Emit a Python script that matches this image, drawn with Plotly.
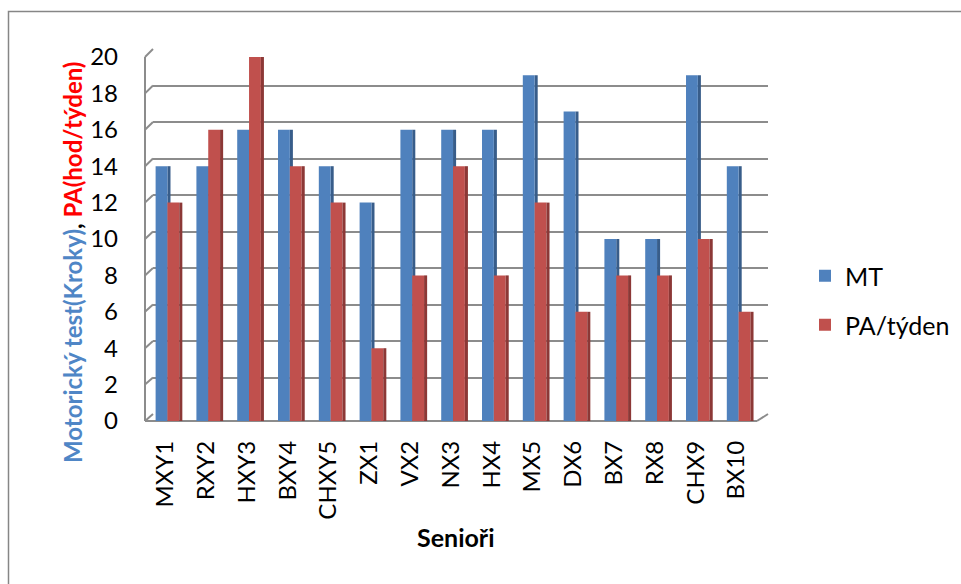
import plotly.graph_objects as go

# Seniors and their scores
seniori = ["MXY1", "RXY2", "HXY3", "BXY4", "CHXY5", "ZX1", "VX2", "NX3",
           "HX4", "MX5", "DX6", "BX7", "RX8", "CHX9", "BX10"]
mt = [14, 14, 16, 16, 14, 12, 16, 16, 16, 19, 17, 10, 10, 19, 14]
pa_tyden = [12, 16, 20, 14, 12, 4, 8, 14, 8, 12, 6, 8, 8, 10, 6]
y_ticks = list(range(0, 21, 2))

W, H = 961, 584
FONT = "Lato"


def px(x):
    return x / W


def py(y):
    return 1 - y / H


# front plane (bars, labels) and back wall (grid) in pixels
FX0, FX1, FY0, FY1 = 145, 757, 421, 57
BX0, BX1, BY0, BY1 = 153, 768, 414, 49

BLUE, BLUE_SIDE = "#4F81BD", "#385D8A"
RED, RED_SIDE = "#C0504D", "#8C3836"
GRID = "#8C8C8C"

bw, side = 0.29, 0.075
off_blue, off_red = -0.24, 0.05

fig = go.Figure()
# invisible anchor so the back-wall subplot (grid) is rendered
fig.add_trace(go.Scatter(x=[seniori[0]], y=[0], xaxis="x", yaxis="y", mode="markers",
                         marker=dict(opacity=0), showlegend=False, hoverinfo="skip"))
fig.add_trace(go.Bar(x=seniori, y=mt, xaxis="x2", yaxis="y2", width=side,
                     offset=off_blue + bw, marker=dict(color=BLUE_SIDE, line_width=0),
                     showlegend=False, hoverinfo="skip"))
fig.add_trace(go.Bar(x=seniori, y=mt, name="MT", xaxis="x2", yaxis="y2", width=bw,
                     offset=off_blue, marker=dict(color=BLUE, line_width=0),
                     legend="legend"))
fig.add_trace(go.Bar(x=seniori, y=pa_tyden, name="PA/týden", xaxis="x2", yaxis="y2",
                     width=bw, offset=off_red, marker=dict(color=RED, line_width=0),
                     legend="legend2"))
fig.add_trace(go.Bar(x=seniori, y=pa_tyden, xaxis="x2", yaxis="y2", width=side,
                     offset=off_red + bw, marker=dict(color=RED_SIDE, line_width=0),
                     showlegend=False, hoverinfo="skip"))

shapes = []
line = dict(color=GRID, width=2)
# left side wall: front edge and slanted grid segments
shapes.append(dict(type="line", xref="paper", yref="paper", layer="below",
                   x0=px(FX0), x1=px(FX0), y0=py(FY0), y1=py(FY1), line=line))
fs = (FY0 - FY1) / 20
bs = (BY0 - BY1) / 20
for v in y_ticks:
    shapes.append(dict(type="line", xref="paper", yref="paper", layer="below",
                       x0=px(FX0), y0=py(FY0 - v * fs), x1=px(BX0), y1=py(BY0 - v * bs),
                       line=line))
# floor front edge and right end
shapes.append(dict(type="line", xref="paper", yref="paper", layer="below",
                   x0=px(FX0), x1=px(FX1), y0=py(FY0), y1=py(FY0), line=line))
shapes.append(dict(type="line", xref="paper", yref="paper", layer="below",
                   x0=px(FX1), x1=px(BX1), y0=py(FY0), y1=py(BY0), line=line))
# chart area border
shapes.append(dict(type="rect", xref="paper", yref="paper",
                   x0=px(8.5), x1=px(1000), y0=py(11.5), y1=py(640),
                   line=dict(color="#868686", width=1.5), layer="below"))

ytitle = ("<span style='color:#4F86C6'>Motorický test(Kroky)</span>"
          "<span style='color:#000000'>, </span>"
          "<span style='color:#FF0000'>PA(hod/týden)</span>")

fig.update_layout(
    width=W, height=H,
    margin=dict(l=0, r=0, t=0, b=0),
    paper_bgcolor="white", plot_bgcolor="rgba(0,0,0,0)",
    barmode="overlay",
    font=dict(family=FONT, size=24, color="black"),
    shapes=shapes,
    xaxis=dict(domain=[px(BX0), px(BX1)], anchor="y", type="category",
               categoryorder="array", categoryarray=seniori,
               range=[-0.5, 14.5], showgrid=False, showticklabels=False,
               zeroline=False, showline=False),
    yaxis=dict(domain=[py(BY0), py(BY1)], anchor="x", range=[0, 20],
               tickvals=y_ticks, showgrid=True, gridcolor=GRID, gridwidth=2,
               showticklabels=False, zeroline=False, showline=False),
    xaxis2=dict(domain=[px(FX0), px(FX1)], anchor="y2", type="category",
                range=[-0.5, 14.5], showgrid=False, zeroline=False, showline=False,
                tickangle=-90, ticklabelstandoff=14, automargin=False,
                tickfont=dict(family=FONT, size=24)),
    yaxis2=dict(domain=[py(FY0), py(FY1)], anchor="x2", range=[0, 20],
                tickvals=y_ticks, showgrid=False, zeroline=False, showline=False,
                ticklabelstandoff=26, automargin=False,
                tickfont=dict(family=FONT, size=24)),
    legend=dict(x=px(805), y=py(276), xanchor="left", yanchor="middle",
                font=dict(family=FONT, size=25), bgcolor="rgba(0,0,0,0)"),
    legend2=dict(x=px(805), y=py(325), xanchor="left", yanchor="middle",
                 font=dict(family=FONT, size=25), bgcolor="rgba(0,0,0,0)"),
    annotations=[
        dict(text=ytitle, xref="paper", yref="paper", x=px(72), y=py(263),
             textangle=-90, showarrow=False, xanchor="center", yanchor="middle",
             font=dict(family=FONT, size=24, weight="bold")),
        dict(text="Senioři", xref="paper", yref="paper", x=px(456), y=py(537),
             showarrow=False, xanchor="center", yanchor="middle",
             font=dict(family=FONT, size=25, weight="bold", color="black")),
    ],
)

fig.write_html("out.html")
